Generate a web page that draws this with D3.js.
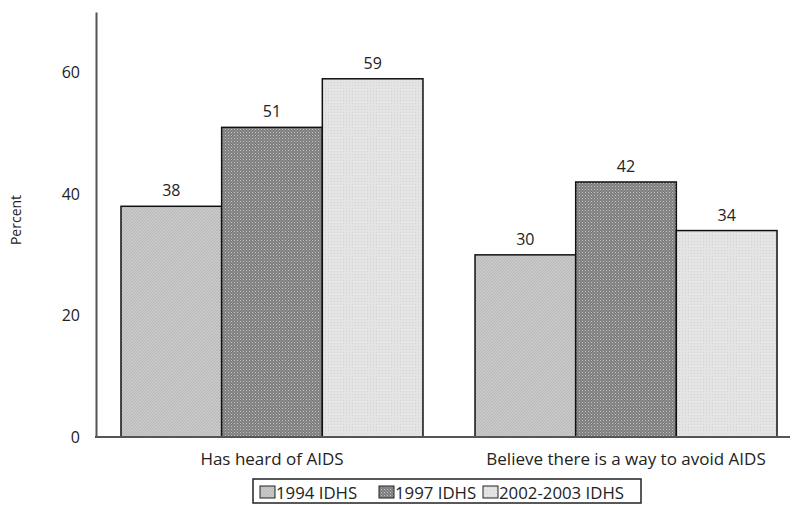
<!DOCTYPE html>
<html><head><meta charset="utf-8">
<script src="https://cdn.jsdelivr.net/npm/d3@7"></script>
<style>body{margin:0;background:#fff}svg{display:block}text{font-family:"Open Sans",sans-serif;fill:#222}</style>
</head><body><svg id="c" width="792" height="505"></svg>
<script>
const categories = ["Has heard of AIDS", "Believe there is a way to avoid AIDS"];
const seriesNames = ["1994 IDHS", "1997 IDHS", "2002-2003 IDHS"];
const values1994 = [38, 30];
const values1997 = [51, 42];
const values2002 = [59, 34];
const yTicks = [0, 20, 40, 60];

const seriesValues = [values1994, values1997, values2002];
const svg = d3.select("#c");
const defs = svg.append("defs");

// patterns
const p1 = defs.append("pattern").attr("id","pat0").attr("patternUnits","userSpaceOnUse").attr("width",3).attr("height",3);
p1.append("rect").attr("width",3).attr("height",3).attr("fill","#c9c9c9");
p1.append("path").attr("d","M0,3 L3,0 M-1,1 L1,-1 M2,4 L4,2").attr("stroke","#b2b2b2").attr("stroke-width",0.8);
const p2 = defs.append("pattern").attr("id","pat1").attr("patternUnits","userSpaceOnUse").attr("width",3).attr("height",3);
p2.append("rect").attr("width",3).attr("height",3).attr("fill","#7e7e7e");
p2.append("rect").attr("width",1).attr("height",1).attr("x",0).attr("y",0).attr("fill","#c4c4c4");
p2.append("rect").attr("width",1).attr("height",1).attr("x",1.5).attr("y",1.5).attr("fill","#a8a8a8");
const p3 = defs.append("pattern").attr("id","pat2").attr("patternUnits","userSpaceOnUse").attr("width",3).attr("height",3);
p3.append("rect").attr("width",3).attr("height",3).attr("fill","#e4e4e4");
p3.append("rect").attr("width",1).attr("height",1).attr("x",1).attr("y",1).attr("fill","#d2d2d2");

const y = d3.scaleLinear().domain([0,70]).range([437,12]);
const x0 = d3.scaleBand().domain(categories).range([96,802]).paddingInner(0.147).paddingOuter(0.0706);
const x1 = d3.scaleBand().domain(seriesNames).range([0, x0.bandwidth()]);

// bars
const g = svg.append("g");
categories.forEach((c,ci)=>{
  seriesNames.forEach((s,si)=>{
    const v = seriesValues[si][ci];
    const bx = x0(c)+x1(s);
    g.append("rect").attr("x",bx).attr("y",y(v)).attr("width",x1.bandwidth()).attr("height",y(0)-y(v))
      .attr("fill",`url(#pat${si})`).attr("stroke","#111").attr("stroke-width",1.5);
    g.append("text").attr("x",bx+x1.bandwidth()/2).attr("y",y(v)-10).attr("text-anchor","middle")
      .attr("font-size",16).text(v);
  });
});

// axes
const yAxis = d3.axisLeft(y).tickValues(yTicks).tickSize(0).tickPadding(16);
const ya = svg.append("g").attr("transform","translate(96,0)").call(yAxis);
ya.select(".domain").attr("stroke","#555").attr("stroke-width",2);
ya.selectAll("text").attr("font-size",16).style("font-family",'"Open Sans",sans-serif').attr("fill","#222");

svg.append("line").attr("x1",95).attr("x2",790).attr("y1",y(0)).attr("y2",y(0)).attr("stroke","#555").attr("stroke-width",2);

const xAxis = d3.axisBottom(x0).tickSize(0).tickPadding(16);
const xa = svg.append("g").attr("transform",`translate(0,${y(0)})`).call(xAxis);
xa.select(".domain").remove();
xa.selectAll("text").attr("font-size",17).style("font-family",'"Open Sans",sans-serif').attr("fill","#222");

svg.append("text").attr("transform","translate(21,220) rotate(-90)").attr("text-anchor","middle").attr("font-size",14).text("Percent");

// legend
const leg = svg.append("g");
leg.append("rect").attr("x",253).attr("y",479).attr("width",388).attr("height",24).attr("fill","#fff").attr("stroke","#222").attr("stroke-width",1.5);
const legX = [260, 379, 483];
seriesNames.forEach((s,si)=>{
  leg.append("rect").attr("x",legX[si]).attr("y",486).attr("width",15).attr("height",12).attr("fill",`url(#pat${si})`).attr("stroke","#222").attr("stroke-width",1);
  leg.append("text").attr("x",legX[si]+16).attr("y",499).attr("font-size",16.8).text(s);
});
</script></body></html>
